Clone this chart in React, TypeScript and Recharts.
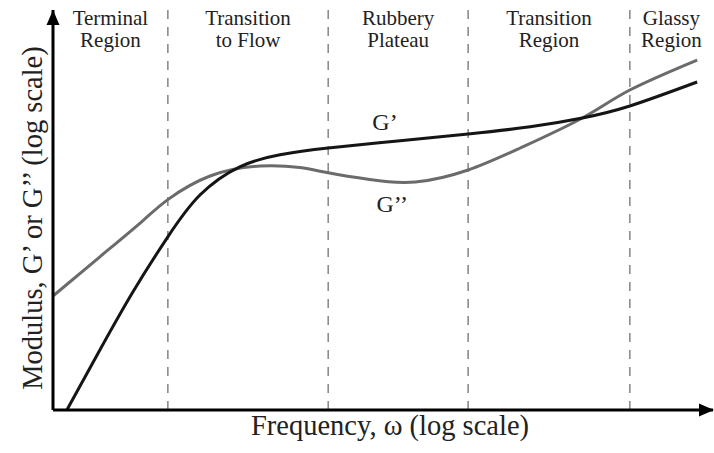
import React from 'react';
import { LineChart, Line, XAxis, YAxis, ReferenceLine, ReferenceArea, ReferenceDot } from 'recharts';

// log frequency (0-100) vs log modulus (0-100)
const storageModulus = [
    { x: 2.1, y: 0 },
    { x: 7.1, y: 15 },
    { x: 12.1, y: 29.5 },
    { x: 17.4, y: 43.3 },
    { x: 22.3, y: 53.8 },
    { x: 28.3, y: 60.8 },
    { x: 34.4, y: 63.8 },
    { x: 41.7, y: 65.5 },
    { x: 52.6, y: 67.3 },
    { x: 62.9, y: 69 },
    { x: 72.3, y: 70.8 },
    { x: 80.2, y: 73 },
    { x: 87.4, y: 76 },
    { x: 97.6, y: 82 },
];

const lossModulus = [
    { x: 0, y: 28.5 },
    { x: 7.1, y: 38.3 },
    { x: 13.6, y: 47.3 },
    { x: 17.4, y: 52.6 },
    { x: 23.8, y: 58.5 },
    { x: 31.4, y: 61 },
    { x: 37.4, y: 60.6 },
    { x: 41.7, y: 59.3 },
    { x: 48.0, y: 57.6 },
    { x: 54.9, y: 57 },
    { x: 62.9, y: 60 },
    { x: 70.8, y: 65.5 },
    { x: 80.2, y: 73 },
    { x: 87.4, y: 80 },
    { x: 97.6, y: 87.5 },
];

const regionBounds = [0, 17.4, 41.7, 62.9, 87.4, 100];
const regionLabels = [
    ['Terminal', 'Region'],
    ['Transition', 'to Flow'],
    ['Rubbery', 'Plateau'],
    ['Transition', 'Region'],
    ['Glassy', 'Region'],
];

const curveLabels = [
    { text: 'G\u2019', x: 50.3, y: 72 },
    { text: 'G\u2019\u2019', x: 51.4, y: 51.5 },
];

const FONT = "'Liberation Serif', 'DejaVu Serif', serif";
const INK = '#222';
const textStyle = { fontFamily: FONT };

const RegionLabel = ({ viewBox, lines }: any) => {
    const cx = viewBox.x + viewBox.width / 2;
    return (
        <text x={cx} y={viewBox.y + 15} textAnchor="middle" style={textStyle} fontSize={21} fill={INK}>
            <tspan x={cx} dy={0}>{lines[0]}</tspan>
            <tspan x={cx} dy={22}>{lines[1]}</tspan>
        </text>
    );
};

const App = () => {
    return (
        <div style={{ position: 'absolute', left: 0, top: 0, background: '#fff', fontFamily: FONT }}>
            <LineChart width={714} height={453} margin={{ top: 10, right: 1, left: 52, bottom: 42 }}>
                <XAxis
                    type="number"
                    dataKey="x"
                    domain={[0, 100]}
                    height={1}
                    tick={false}
                    tickLine={false}
                    axisLine={{ stroke: '#000', strokeWidth: 3 }}
                    label={{
                        content: ({ viewBox }: any) => (
                            <text
                                x={viewBox.x + viewBox.width / 2 + 7}
                                y={viewBox.y + 25}
                                textAnchor="middle"
                                style={textStyle}
                                fontSize={28.5}
                                fill={INK}
                            >
                                Frequency, ω (log scale)
                            </text>
                        ),
                    }}
                />
                <YAxis
                    type="number"
                    dataKey="y"
                    domain={[0, 100]}
                    width={1}
                    tick={false}
                    tickLine={false}
                    axisLine={{ stroke: '#000', strokeWidth: 3 }}
                    label={{
                        content: ({ viewBox }: any) => {
                            const lx = viewBox.x - 10;
                            const ly = viewBox.y + viewBox.height / 2 + 8;
                            return (
                                <text
                                    x={lx}
                                    y={ly}
                                    transform={`rotate(-90 ${lx} ${ly})`}
                                    textAnchor="middle"
                                    style={textStyle}
                                    fontSize={28.5}
                                    fill={INK}
                                >
                                    Modulus, G’ or G’’ (log scale)
                                </text>
                            );
                        },
                    }}
                />
                {regionLabels.map((lines, i) => (
                    <ReferenceArea
                        key={`area-${i}`}
                        x1={regionBounds[i]}
                        x2={regionBounds[i + 1]}
                        y1={0}
                        y2={100}
                        fill="none"
                        stroke="none"
                        label={{ content: (p: any) => <RegionLabel viewBox={p.viewBox} lines={lines} /> }}
                    />
                ))}
                {regionBounds.slice(1, -1).map((b) => (
                    <ReferenceLine key={`bound-${b}`} x={b} stroke="#8c8c8c" strokeWidth={1.6} strokeDasharray="9 8" />
                ))}
                <Line
                    data={lossModulus}
                    dataKey="y"
                    type="natural"
                    stroke="#6b6b6b"
                    strokeWidth={3}
                    dot={false}
                    isAnimationActive={false}
                />
                <Line
                    data={storageModulus}
                    dataKey="y"
                    type="natural"
                    stroke="#151515"
                    strokeWidth={3}
                    dot={false}
                    isAnimationActive={false}
                />
                {curveLabels.map((c) => (
                    <ReferenceDot
                        key={c.text}
                        x={c.x}
                        y={c.y}
                        ifOverflow="visible"
                        shape={(p: any) => (
                            <text x={p.cx} y={p.cy + 8} textAnchor="middle" style={textStyle} fontSize={24} fill={INK}>
                                {c.text}
                            </text>
                        )}
                    />
                ))}
                <ReferenceDot
                    x={100}
                    y={0}
                    ifOverflow="visible"
                    shape={(p: any) => (
                        <path d={`M${p.cx + 1},${p.cy} L${p.cx - 14},${p.cy - 6.5} L${p.cx - 14},${p.cy + 6.5} Z`} fill="#000" />
                    )}
                />
                <ReferenceDot
                    x={0}
                    y={100}
                    ifOverflow="visible"
                    shape={(p: any) => (
                        <path d={`M${p.cx},${p.cy} L${p.cx - 6.5},${p.cy + 15} L${p.cx + 6.5},${p.cy + 15} Z`} fill="#000" />
                    )}
                />
            </LineChart>
        </div>
    );
};

export default App;
